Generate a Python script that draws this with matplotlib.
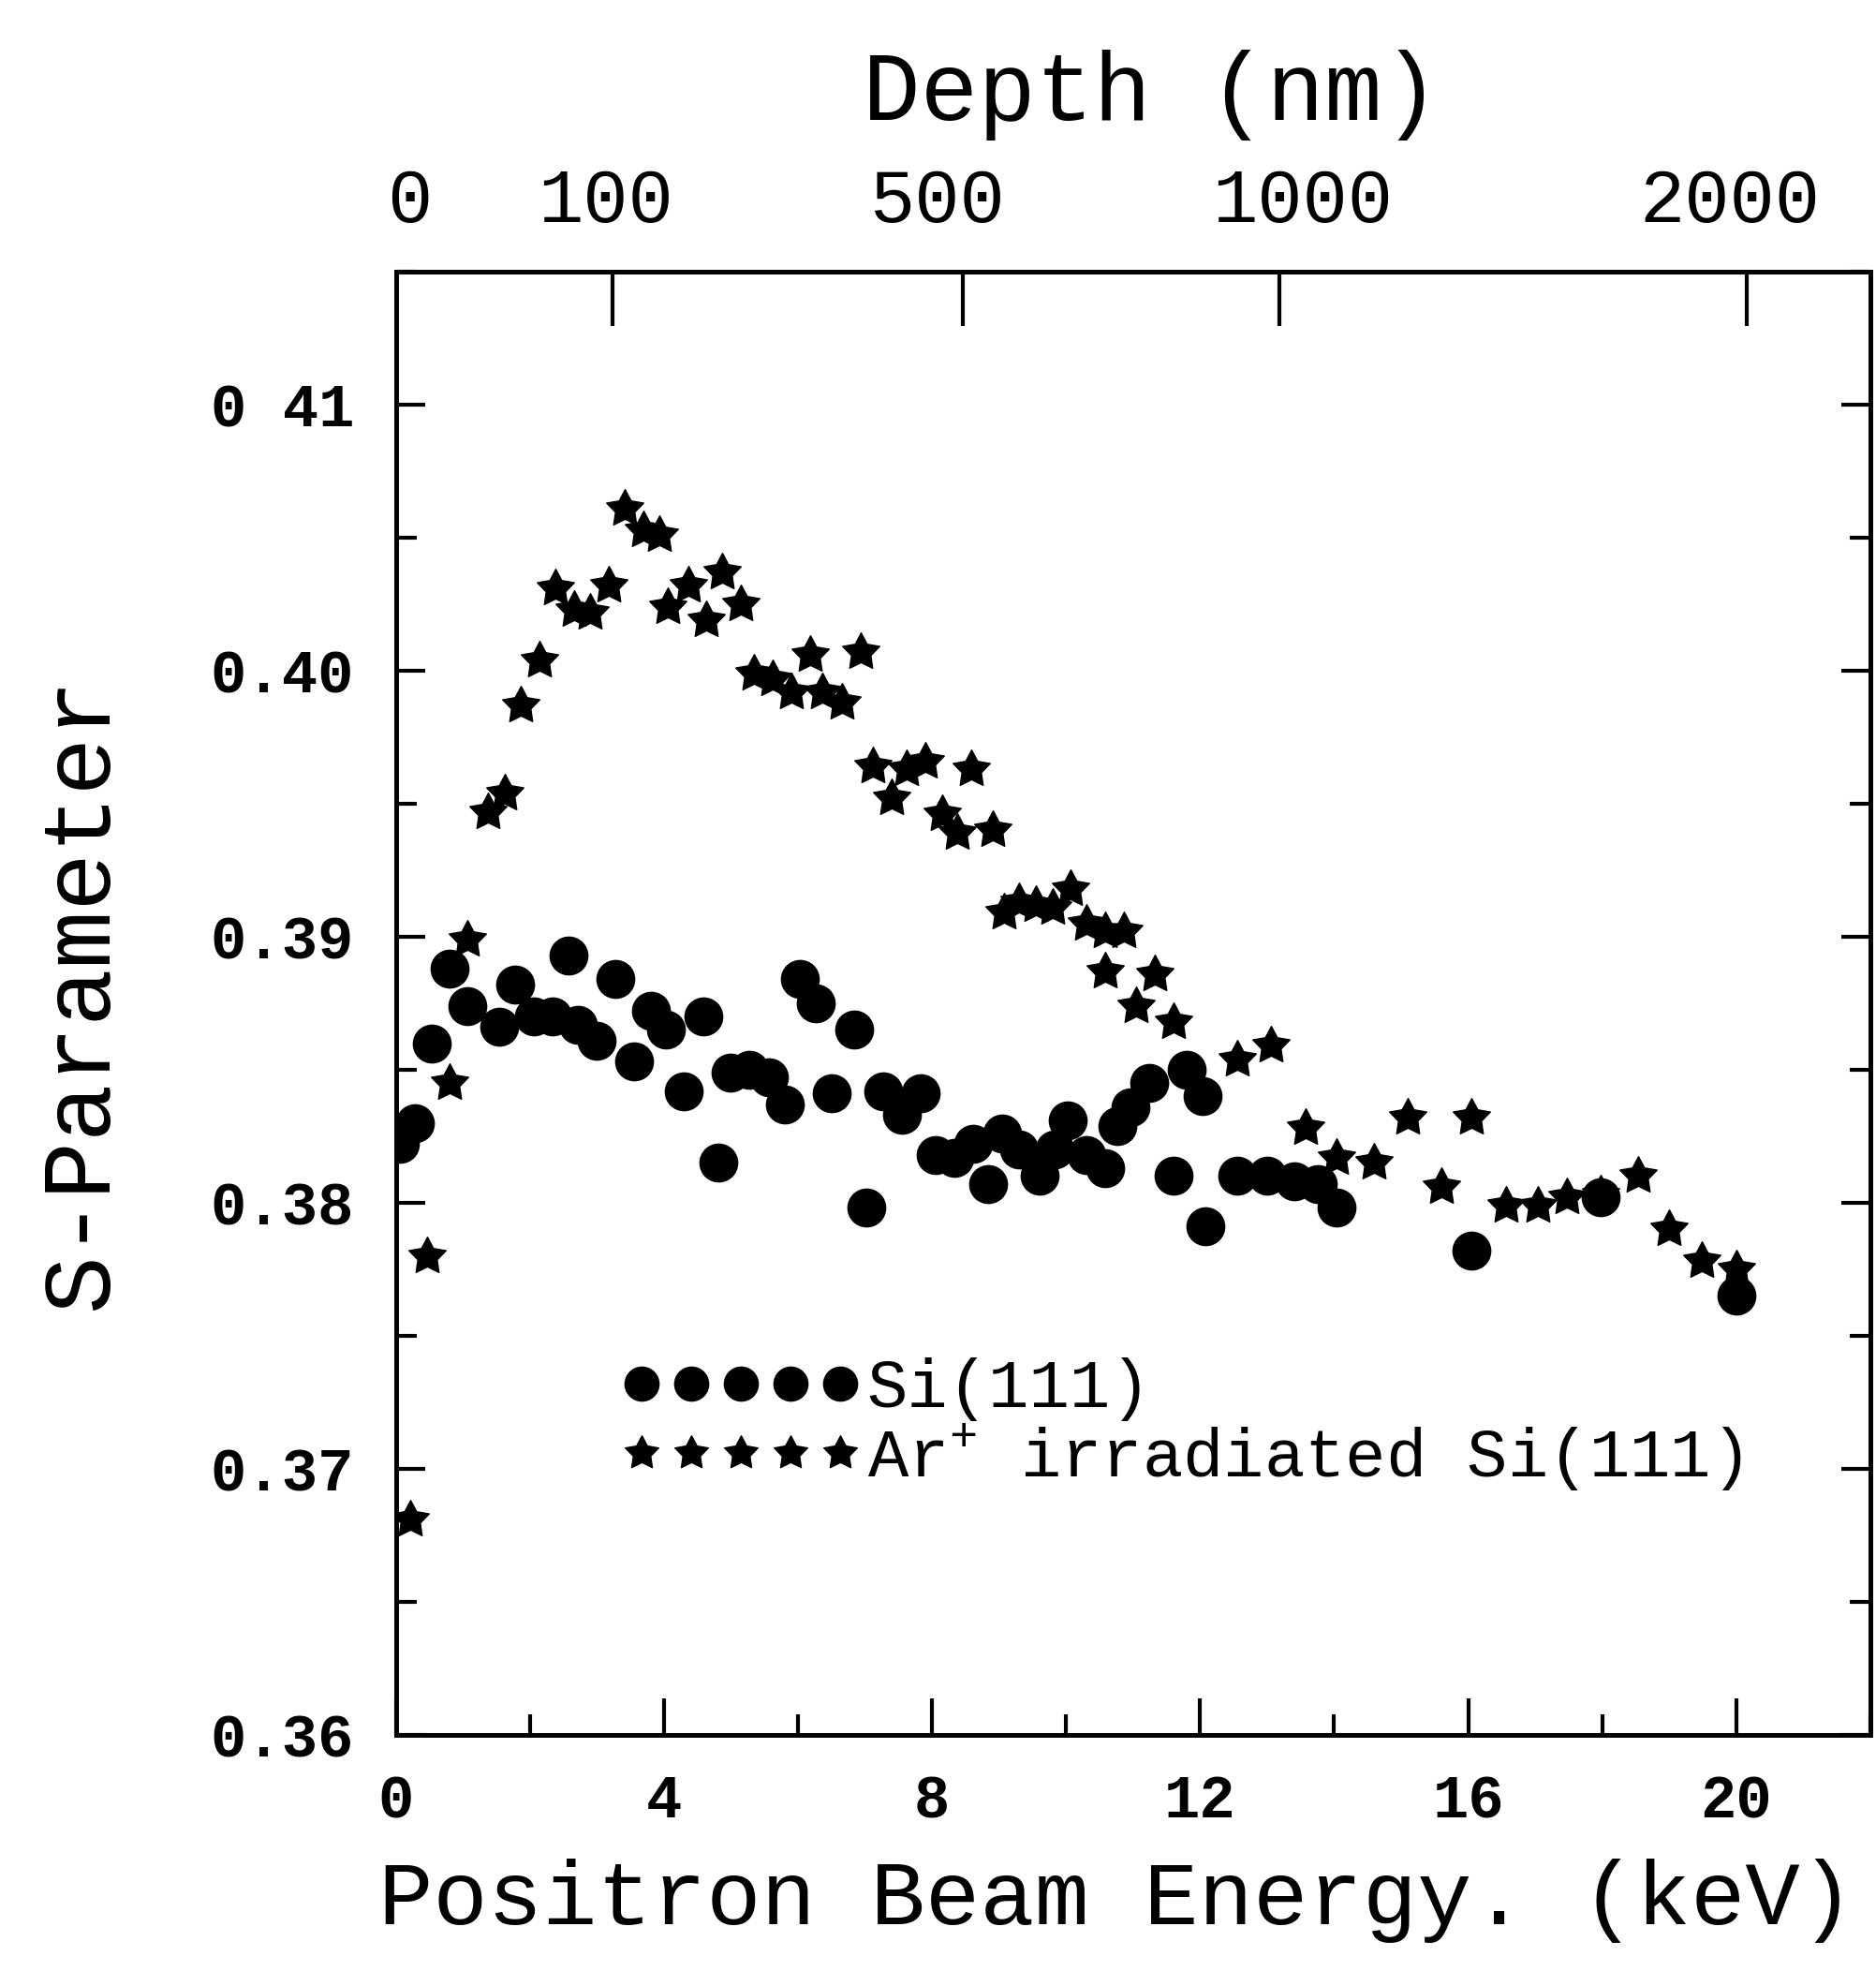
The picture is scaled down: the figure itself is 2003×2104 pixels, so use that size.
import numpy as np
import matplotlib.pyplot as plt
from matplotlib.ticker import MultipleLocator
from matplotlib.path import Path

# Si(111) reference sample (circles)
energy_si = [0.06, 0.28, 0.54, 0.80, 1.07, 1.54, 1.78, 2.06, 2.34, 2.57,
             2.72, 3.00, 3.28, 3.56, 3.80, 4.03, 4.30, 4.59, 4.81, 5.00,
             5.28, 5.56, 5.80, 6.03, 6.27, 6.50, 6.84, 7.02, 7.27, 7.55,
             7.83, 8.05, 8.33, 8.61, 8.84, 9.04, 9.30, 9.60, 9.83, 10.02,
             10.30, 10.58, 10.77, 10.96, 11.24, 11.61, 11.80, 12.04, 12.08, 12.55,
             13.00, 13.40, 13.76, 14.04, 16.05, 17.98, 20.00]
s_si = [0.3822, 0.3830, 0.3860, 0.3888, 0.3874, 0.3866, 0.3882, 0.3870, 0.3870, 0.3893,
        0.3867, 0.3861, 0.3884, 0.3853, 0.3872, 0.3865, 0.3842, 0.3870, 0.3815, 0.3849,
        0.3850, 0.3847, 0.3837, 0.3884, 0.3875, 0.3841, 0.3865, 0.3798, 0.3842, 0.3833,
        0.3841, 0.3818, 0.3817, 0.3822, 0.3807, 0.3826, 0.3820, 0.3810, 0.3820, 0.3831,
        0.3818, 0.3813, 0.3829, 0.3836, 0.3845, 0.3810, 0.3850, 0.3840, 0.3791, 0.3810,
        0.3810, 0.3808, 0.3807, 0.3798, 0.3782, 0.3802, 0.3765]

# Ar+ irradiated Si(111) (stars)
energy_ar = [0.22, 0.47, 0.80, 1.07, 1.37, 1.63, 1.87, 2.15, 2.38, 2.66,
             2.90, 3.18, 3.41, 3.69, 3.93, 4.06, 4.36, 4.63, 4.87, 5.15,
             5.34, 5.62, 5.90, 6.18, 6.37, 6.65, 6.93, 7.12, 7.40, 7.62,
             7.90, 8.15, 8.37, 8.58, 8.90, 9.08, 9.30, 9.55, 9.80, 10.06,
             10.30, 10.58, 10.86, 10.58, 11.05, 11.33, 11.60, 12.55, 13.05, 13.58,
             14.04, 14.60, 15.10, 15.60, 16.05, 16.57, 17.04, 17.47, 17.98, 18.54,
             19.00, 19.48, 20.00]
s_ar = [0.3681, 0.3780, 0.3845, 0.3899, 0.3947, 0.3954, 0.3987, 0.4004, 0.4031, 0.4023,
        0.4022, 0.4032, 0.4061, 0.4053, 0.4051, 0.4024, 0.4032, 0.4019, 0.4037, 0.4025,
        0.3999, 0.3997, 0.3992, 0.4006, 0.3992, 0.3988, 0.4007, 0.3964, 0.3952, 0.3963,
        0.3966, 0.3946, 0.3939, 0.3963, 0.3940, 0.3909, 0.3913, 0.3912, 0.3911, 0.3918,
        0.3905, 0.3902, 0.3902, 0.3887, 0.3874, 0.3886, 0.3868, 0.3854, 0.3859, 0.3828,
        0.3817, 0.3815, 0.3832, 0.3806, 0.3832, 0.3799, 0.3799, 0.3802, 0.3803, 0.3810,
        0.3790, 0.3778, 0.3775]

xticks = [0, 4, 8, 12, 16, 20]
yticks = [0.36, 0.37, 0.38, 0.39, 0.40, 0.41]
ytick_labels = ['0.36', '0.37', '0.38', '0.39', '0.40', '0 41']

# top axis: depth ticks (in keV positions) and where the labels sit
depth_tick_keV = [3.23, 8.46, 13.18, 20.15]
depth_label_keV = [0.2, 3.13, 8.07, 13.53, 19.9]
depth_labels = ['0', '100', '500', '1000', '2000']

# chunky five-pointed star like the printed symbol
ang = np.pi / 2 + np.arange(10) * np.pi / 5
rad = np.where(np.arange(10) % 2 == 0, 1.0, 0.52)
star_verts = np.column_stack([rad * np.cos(ang), rad * np.sin(ang)])
star_verts = np.vstack([star_verts, star_verts[:1]])
fat_star = Path(star_verts, closed=True)

plt.rcParams['font.family'] = ['Liberation Mono', 'DejaVu Sans']
plt.rcParams['mathtext.fontset'] = 'custom'
plt.rcParams['mathtext.rm'] = 'Liberation Mono'

fig = plt.figure(figsize=(20.03, 21.04), dpi=100)
ax = fig.add_axes([0.211, 0.120, 0.786, 0.742])

ax.plot(energy_si, s_si, 'o', color='k', ms=29, label='Si(111)')
ax.plot(energy_ar, s_ar, marker=fat_star, ls='none', color='k', ms=30,
        label='Ar$^{+}$ irradiated Si(111)')

ax.set_xlim(0, 22)
ax.set_ylim(0.36, 0.415)
ax.set_xticks(xticks)
ax.xaxis.set_minor_locator(MultipleLocator(2))
ax.set_yticks(yticks, ytick_labels)
ax.yaxis.set_minor_locator(MultipleLocator(0.005))

for sp in ax.spines.values():
    sp.set_linewidth(3.5)

ax.tick_params(axis='both', which='both', direction='in', width=3, right=True)
ax.tick_params(axis='x', which='major', length=28, labelsize=46, pad=30)
ax.tick_params(axis='x', which='minor', length=16)
ax.tick_params(axis='y', which='major', length=22, labelsize=46, pad=32)
ax.tick_params(axis='y', which='minor', length=16)
for lab in ax.get_xticklabels() + ax.get_yticklabels():
    lab.set_fontweight('bold')

ax.set_xlabel('Positron Beam Energy. (keV)', fontsize=70, labelpad=22, x=0.489)
ax.set_ylabel('S-Parameter', fontsize=74, labelpad=64, y=0.507)

axt = ax.twiny()
axt.set_xlim(ax.get_xlim())
axt.set_xticks(depth_tick_keV, [''] * len(depth_tick_keV))
axt.set_xticks(depth_label_keV, depth_labels, minor=True)
axt.tick_params(which='major', direction='in', length=42, width=3)
axt.tick_params(which='minor', length=0, labelsize=58, pad=26)
axt.set_xlabel('Depth (nm)', fontsize=74, labelpad=36, x=0.512)
for sp in axt.spines.values():
    sp.set_linewidth(3.5)

ax.legend(loc='center left', bbox_to_anchor=(0.153, 0.211), frameon=False,
          numpoints=5, handlelength=3.53, handletextpad=0.1, fontsize=52,
          labelspacing=0.0, borderpad=0, borderaxespad=0, markerscale=0.9)

fig.savefig('out.png', dpi=100)
